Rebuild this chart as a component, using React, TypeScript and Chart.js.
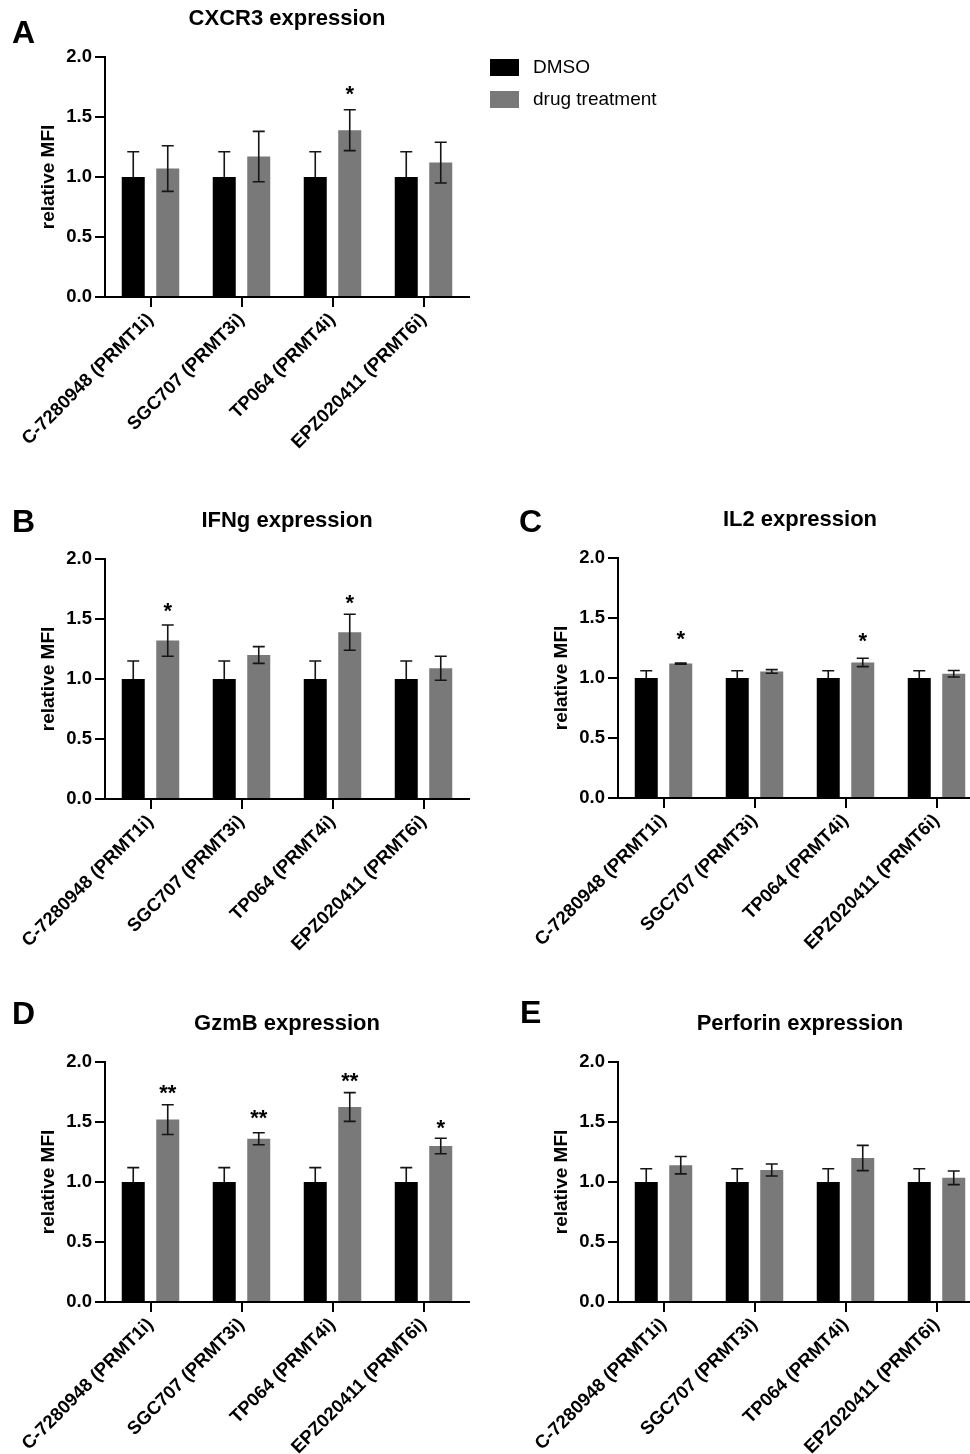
import React, { useEffect, useRef } from "react";
import { Chart, registerables } from "chart.js";

Chart.register(...registerables);

const FONT = "'Liberation Sans', Arial, Helvetica, sans-serif";
Chart.defaults.font.family = FONT;
Chart.defaults.color = "#000";

// ---------- data ----------
const categories = ["C-7280948 (PRMT1i)", "SGC707 (PRMT3i)", "TP064 (PRMT4i)", "EPZ020411 (PRMT6i)"];
const seriesNames = ["DMSO", "drug treatment"];
const seriesColors = ["#000000", "#797979"];
const yTickValues = [0, 0.5, 1.0, 1.5, 2.0];
const yAxisTitle = "relative MFI";

// A: CXCR3
const cxcr3Dmso = [1.0, 1.0, 1.0, 1.0];
const cxcr3DmsoErr = [0.21, 0.21, 0.21, 0.21];
const cxcr3Drug = [1.07, 1.17, 1.39, 1.12];
const cxcr3DrugErr = [0.19, 0.21, 0.17, 0.17];
const cxcr3Sig = ["", "", "*", ""];
const cxcr3SigLevel = [0, 0, 1.74, 0];

// B: IFNg
const ifngDmso = [1.0, 1.0, 1.0, 1.0];
const ifngDmsoErr = [0.15, 0.15, 0.15, 0.15];
const ifngDrug = [1.32, 1.2, 1.39, 1.09];
const ifngDrugErr = [0.13, 0.07, 0.15, 0.1];
const ifngSig = ["*", "", "*", ""];
const ifngSigLevel = [1.61, 0, 1.68, 0];

// C: IL2
const il2Dmso = [1.0, 1.0, 1.0, 1.0];
const il2DmsoErr = [0.06, 0.06, 0.06, 0.06];
const il2Drug = [1.12, 1.055, 1.13, 1.035];
const il2DrugErr = [0.005, 0.015, 0.035, 0.027];
const il2Sig = ["*", "", "*", ""];
const il2SigLevel = [1.37, 0, 1.355, 0];

// D: GzmB
const gzmbDmso = [1.0, 1.0, 1.0, 1.0];
const gzmbDmsoErr = [0.12, 0.12, 0.12, 0.12];
const gzmbDrug = [1.52, 1.36, 1.625, 1.3];
const gzmbDrugErr = [0.124, 0.05, 0.12, 0.064];
const gzmbSig = ["**", "**", "**", "*"];
const gzmbSigLevel = [1.79, 1.578, 1.886, 1.494];

// E: Perforin
const perfDmso = [1.0, 1.0, 1.0, 1.0];
const perfDmsoErr = [0.11, 0.11, 0.11, 0.11];
const perfDrug = [1.14, 1.1, 1.2, 1.035];
const perfDrugErr = [0.072, 0.05, 0.105, 0.057];
const perfSig = ["", "", "", ""];
const perfSigLevel = [0, 0, 0, 0];

// ---------- layout ----------
const EXTRA_TOP = 30;
const CANVAS_H = 457 + EXTRA_TOP;
const AREA_LEFT = 105;
const AREA_RIGHT = 469;

const panels = [
  { letter: "A", title: "CXCR3 expression", dmso: cxcr3Dmso, dmsoErr: cxcr3DmsoErr, drug: cxcr3Drug, drugErr: cxcr3DrugErr, sig: cxcr3Sig, sigLevel: cxcr3SigLevel, left: 0, top: -30, width: 700, lx: 12, ly: 73, legend: true },
  { letter: "B", title: "IFNg expression", dmso: ifngDmso, dmsoErr: ifngDmsoErr, drug: ifngDrug, drugErr: ifngDrugErr, sig: ifngSig, sigLevel: ifngSigLevel, left: 0, top: 472, width: 490, lx: 12, ly: 60, legend: false },
  { letter: "C", title: "IL2 expression", dmso: il2Dmso, dmsoErr: il2DmsoErr, drug: il2Drug, drugErr: il2DrugErr, sig: il2Sig, sigLevel: il2SigLevel, left: 513, top: 471, width: 490, lx: 6, ly: 61, legend: false },
  { letter: "D", title: "GzmB expression", dmso: gzmbDmso, dmsoErr: gzmbDmsoErr, drug: gzmbDrug, drugErr: gzmbDrugErr, sig: gzmbSig, sigLevel: gzmbSigLevel, left: 0, top: 975, width: 490, lx: 12, ly: 49, legend: false },
  { letter: "E", title: "Perforin expression", dmso: perfDmso, dmsoErr: perfDmsoErr, drug: perfDrug, drugErr: perfDrugErr, sig: perfSig, sigLevel: perfSigLevel, left: 513, top: 975, width: 490, lx: 7, ly: 48, legend: false },
];

// ---------- plugins ----------
const errorBarPlugin = {
  id: "errorBars",
  afterDatasetsDraw(chart: any) {
    const ctx = chart.ctx;
    const y = chart.scales.y;
    chart.data.datasets.forEach((ds: any, i: number) => {
      const meta = chart.getDatasetMeta(i);
      meta.data.forEach((bar: any, j: number) => {
        const v = ds.data[j];
        const e = ds.errors[j];
        const top = y.getPixelForValue(v + e);
        const bot = y.getPixelForValue(ds.errorBelow ? v - e : v);
        ctx.save();
        ctx.strokeStyle = "#151515";
        ctx.lineWidth = 1.6;
        ctx.beginPath();
        ctx.moveTo(bar.x, top);
        ctx.lineTo(bar.x, bot);
        ctx.moveTo(bar.x - 6, top);
        ctx.lineTo(bar.x + 6, top);
        if (ds.errorBelow) {
          ctx.moveTo(bar.x - 6, bot);
          ctx.lineTo(bar.x + 6, bot);
        }
        ctx.stroke();
        ctx.restore();
      });
    });
  },
};

const sigPlugin = {
  id: "sigMarks",
  afterDatasetsDraw(chart: any, _args: any, opts: any) {
    const ctx = chart.ctx;
    const y = chart.scales.y;
    const meta = chart.getDatasetMeta(1);
    const size = 22;
    ctx.save();
    ctx.font = `bold ${size}px ${FONT}`;
    ctx.fillStyle = "#000";
    ctx.textAlign = "center";
    ctx.textBaseline = "alphabetic";
    meta.data.forEach((bar: any, j: number) => {
      const s = opts.labels[j];
      if (!s) return;
      ctx.fillText(s, bar.x, y.getPixelForValue(opts.levels[j]) + size * 0.57);
    });
    ctx.restore();
  },
};

const letterPlugin = {
  id: "panelLetter",
  afterDraw(chart: any, _args: any, opts: any) {
    const ctx = chart.ctx;
    ctx.save();
    ctx.font = `bold 32px ${FONT}`;
    ctx.fillStyle = "#000";
    ctx.textAlign = "left";
    ctx.textBaseline = "alphabetic";
    ctx.fillText(opts.text, opts.x, opts.y);
    ctx.restore();
  },
};

const legendPlugin = {
  id: "sideLegend",
  afterDraw(chart: any, _args: any, opts: any) {
    if (!opts.display) return;
    const ctx = chart.ctx;
    ctx.save();
    ctx.font = `19px ${FONT}`;
    ctx.textAlign = "left";
    ctx.textBaseline = "middle";
    chart.data.datasets.forEach((ds: any, i: number) => {
      const yTop = opts.y + i * 32;
      ctx.fillStyle = ds.backgroundColor;
      ctx.fillRect(opts.x, yTop, 29, 17);
      ctx.fillStyle = "#000";
      ctx.fillText(ds.label, opts.x + 43, yTop + 9);
    });
    ctx.restore();
  },
};

function Panel({ cfg }: { cfg: any }) {
  const ref = useRef<HTMLCanvasElement>(null);
  useEffect(() => {
    if (!ref.current) return;
    const chart = new Chart(ref.current, {
      type: "bar",
      data: {
        labels: categories,
        datasets: [
          {
            label: seriesNames[0],
            data: cfg.dmso,
            errors: cfg.dmsoErr,
            errorBelow: false,
            backgroundColor: seriesColors[0],
            borderWidth: 0,
            categoryPercentage: 0.758,
            barPercentage: 0.667,
          } as any,
          {
            label: seriesNames[1],
            data: cfg.drug,
            errors: cfg.drugErr,
            errorBelow: true,
            backgroundColor: seriesColors[1],
            borderWidth: 0,
            categoryPercentage: 0.758,
            barPercentage: 0.667,
          } as any,
        ],
      },
      options: {
        responsive: false,
        animation: false,
        devicePixelRatio: 1,
        layout: { padding: { left: 0, top: EXTRA_TOP, bottom: 0, right: cfg.width - AREA_RIGHT } },
        plugins: {
          legend: { display: false },
          tooltip: { enabled: false },
          title: {
            display: true,
            text: cfg.title,
            fullSize: false,
            color: "#000",
            font: { size: 22, weight: "bold", family: FONT },
            padding: { top: 5.8, bottom: 24.8 },
          },
          errorBars: {},
          sigMarks: { labels: cfg.sig, levels: cfg.sigLevel },
          panelLetter: { text: cfg.letter, x: cfg.lx, y: cfg.ly },
          sideLegend: { display: cfg.legend, x: 490, y: 59 + EXTRA_TOP },
        } as any,
        scales: {
          x: {
            offset: true,
            grid: { offset: false, drawOnChartArea: false, drawTicks: true, tickLength: 10, color: "#000", lineWidth: 2 },
            border: { display: true, color: "#000", width: 2 },
            ticks: {
              autoSkip: false,
              minRotation: 45,
              maxRotation: 45,
              padding: 2,
              color: "#000",
              font: { size: 18.5, weight: "bold", family: FONT },
            },
            afterFit: (s: any) => {
              s.height = 160;
            },
          },
          y: {
            min: 0,
            max: 2,
            afterBuildTicks: (s: any) => {
              s.ticks = yTickValues.map((v) => ({ value: v }));
            },
            grid: { drawOnChartArea: false, drawTicks: true, tickLength: 10, color: "#000", lineWidth: 2 },
            border: { display: true, color: "#000", width: 2 },
            ticks: {
              padding: 3,
              color: "#000",
              font: { size: 18.5, weight: "bold", family: FONT },
              callback: (v: any) => Number(v).toFixed(1),
            },
            title: {
              display: true,
              text: yAxisTitle,
              color: "#000",
              font: { size: 19, weight: "bold", family: FONT },
              padding: { top: 37.5, bottom: 0 },
            },
            afterFit: (s: any) => {
              s.width = AREA_LEFT;
            },
          },
        },
      } as any,
      plugins: [errorBarPlugin, sigPlugin, letterPlugin, legendPlugin],
    });
    return () => chart.destroy();
  }, [cfg]);
  return (
    <canvas
      ref={ref}
      width={cfg.width}
      height={CANVAS_H}
      style={{ position: "absolute", left: cfg.left, top: cfg.top, width: cfg.width, height: CANVAS_H }}
    />
  );
}

export default function App() {
  return (
    <div
      style={{
        position: "absolute",
        left: 0,
        top: 0,
        width: 970,
        height: 1454,
        overflow: "hidden",
        background: "#fff",
      }}
    >
      {panels.map((p) => (
        <Panel key={p.letter} cfg={p} />
      ))}
    </div>
  );
}
